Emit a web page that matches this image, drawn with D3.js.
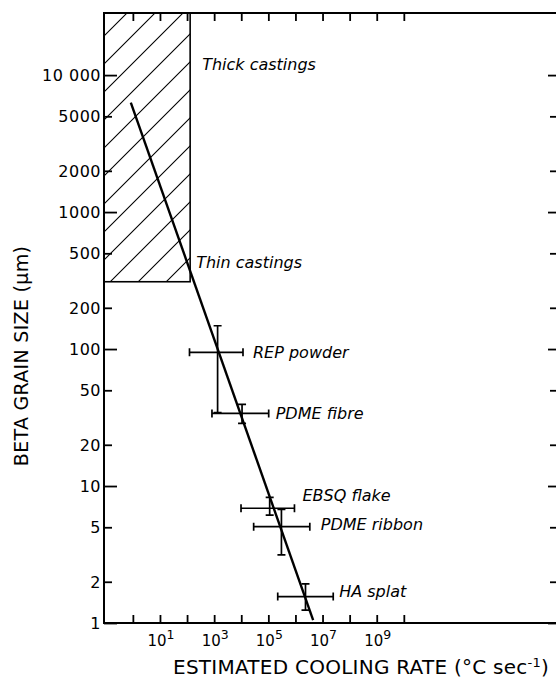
<!DOCTYPE html>
<html>
<head>
<meta charset="utf-8">
<script src="https://cdn.jsdelivr.net/npm/d3@7"></script>
<style>
  body { margin: 0; background: #fff; }
  svg { display: block; font-family: "DejaVu Sans", sans-serif; }
  .lbl { font-style: italic; font-size: 16px; }
</style>
</head>
<body>
<svg id="chart" width="556" height="678"></svg>
<script>
// axis extents
var xDomain = [0.086, 4.9e15];
var yDomain = [1, 28400];

// y ticks
var yTickValues = [1, 2, 5, 10, 20, 50, 100, 200, 500, 1000, 2000, 5000, 10000];
var yTickLabels = ["1", "2", "5", "10", "20", "50", "100", "200", "500", "1000", "2000", "5000", "10 000"];
// x ticks (powers of ten) and the labelled ones
var xTickExponents = [0, 1, 2, 3, 4, 5, 6, 7, 8, 9, 10];
var xLabelExponents = [1, 3, 5, 7, 9];

// measured samples
var samples = ["REP powder", "PDME fibre", "EBSQ flake", "PDME ribbon", "HA splat"];
var rateMid = [1340, 10700, 112000, 304000, 2.35e6];
var rateLow = [123, 830, 9800, 28700, 222000];
var rateHigh = [11600, 103000, 920000, 3.39e6, 2.48e7];
var grainMid = [94.6, 33.9, 6.88, 5.05, 1.56];
var grainLow = [34.3, 28.7, 6.14, 3.14, 1.24];
var grainHigh = [148, 39.5, 8.27, 6.76, 1.93];

// fitted line end points
var fitRate = [0.84, 4.5e6];
var fitGrain = [6300, 1.05];

// castings zone (hatched)
var castRateMax = 130;
var castGrainMin = 310;

var svg = d3.select("#chart");
var plotL = 104, plotR = 558, plotT = 13, plotB = 623;

var x = d3.scaleLog().domain(xDomain).range([plotL, plotR]);
var y = d3.scaleLog().domain(yDomain).range([plotB, plotT]);

// hatch pattern
var defs = svg.append("defs");
defs.append("pattern")
    .attr("id", "hatch")
    .attr("patternUnits", "userSpaceOnUse")
    .attr("width", 28).attr("height", 28)
  .append("path")
    .attr("d", "M-7,7L7,-7M0,28L28,0M21,35L35,21")
    .attr("stroke", "#000")
    .attr("stroke-width", 1.1);

svg.append("rect")
    .attr("x", x(xDomain[0]))
    .attr("y", y(yDomain[1]))
    .attr("width", x(castRateMax) - x(xDomain[0]))
    .attr("height", y(castGrainMin) - y(yDomain[1]))
    .attr("fill", "url(#hatch)")
    .attr("stroke", "#000")
    .attr("stroke-width", 1.6);

// frame
svg.append("rect")
    .attr("x", plotL).attr("y", plotT)
    .attr("width", plotR - plotL).attr("height", plotB - plotT)
    .attr("fill", "none")
    .attr("stroke", "#000")
    .attr("stroke-width", 2);

// y axes (left labelled, right mirrored ticks)
var isMajor = function (v) { return Math.abs(Math.log10(v) % 1) < 1e-9; };
var gL = svg.append("g").attr("transform", "translate(" + plotL + ",0)")
    .call(d3.axisRight(y).tickValues(yTickValues).tickFormat("").tickSizeOuter(0));
gL.select(".domain").remove();
gL.selectAll(".tick line")
    .attr("x2", function (d) { return isMajor(d) ? 13 : 8; })
    .attr("stroke-width", 1.8);

svg.append("g").selectAll("text")
    .data(yTickValues)
  .enter().append("text")
    .attr("x", plotL - 3)
    .attr("y", function (d) { return y(d); })
    .attr("dy", "0.36em")
    .attr("text-anchor", "end")
    .style("font-size", "16px")
    .style("letter-spacing", "0.5px")
    .text(function (d, i) { return yTickLabels[i]; });

var gR = svg.append("g").attr("transform", "translate(" + (plotR - 1) + ",0)")
    .call(d3.axisLeft(y).tickValues(yTickValues).tickFormat("").tickSizeOuter(0));
gR.select(".domain").remove();
gR.selectAll(".tick line")
    .attr("x2", function (d) { return isMajor(d) ? -9 : -7; })
    .attr("stroke-width", 1.8);

// x axes
var xTicks = xTickExponents.map(function (e) { return Math.pow(10, e); });
var gB = svg.append("g").attr("transform", "translate(0," + plotB + ")")
    .call(d3.axisTop(x).tickValues(xTicks).tickFormat("").tickSize(8).tickSizeOuter(0));
gB.select(".domain").remove();
gB.selectAll(".tick line").attr("stroke-width", 1.8);

var gT = svg.append("g").attr("transform", "translate(0," + plotT + ")")
    .call(d3.axisBottom(x).tickValues(xTicks).tickFormat("").tickSize(8).tickSizeOuter(0));
gT.select(".domain").remove();
gT.selectAll(".tick line").attr("stroke-width", 1.8);

var xl = svg.append("g").selectAll("text")
    .data(xLabelExponents)
  .enter().append("text")
    .attr("x", function (e) { return x(Math.pow(10, e)) + 1; })
    .attr("y", 646)
    .attr("text-anchor", "middle")
    .style("font-size", "15px");
xl.append("tspan").text("10");
xl.append("tspan")
    .attr("dy", "-0.55em")
    .style("font-size", "12.5px")
    .text(function (e) { return e; });

// axis titles
var xt = svg.append("text")
    .attr("x", 173)
    .attr("y", 674)
    .style("font-size", "20px")
    .style("letter-spacing", "0.25px");
xt.append("tspan").text("ESTIMATED COOLING RATE (°C  sec");
xt.append("tspan")
    .attr("dy", "-0.55em")
    .style("font-size", "13px")
    .text("-1");
xt.append("tspan")
    .attr("dy", "0.37em")
    .text(")");

svg.append("text")
    .attr("transform", "translate(28,356) rotate(-90)")
    .attr("text-anchor", "middle")
    .style("font-size", "19px")
    .style("letter-spacing", "0.3px")
    .text("BETA GRAIN SIZE (\u03bcm)");

// fitted line
svg.append("path")
    .datum(d3.zip(fitRate, fitGrain))
    .attr("fill", "none")
    .attr("stroke", "#000")
    .attr("stroke-width", 2.4)
    .attr("d", d3.line().x(function (d) { return x(d[0]); }).y(function (d) { return y(d[1]); }));

// error bars
var cap = 4;
var bars = svg.append("g")
    .attr("stroke", "#000")
    .attr("stroke-width", 1.7)
    .attr("fill", "none");
samples.forEach(function (s, i) {
    var cx = x(rateMid[i]), cy = y(grainMid[i]);
    var x0 = x(rateLow[i]), x1 = x(rateHigh[i]);
    var y0 = y(grainLow[i]), y1 = y(grainHigh[i]);
    bars.append("path").attr("d",
        "M" + x0 + "," + cy + "H" + x1 +
        "M" + x0 + "," + (cy - cap) + "V" + (cy + cap) +
        "M" + x1 + "," + (cy - cap) + "V" + (cy + cap) +
        "M" + cx + "," + y1 + "V" + y0 +
        "M" + (cx - cap) + "," + y1 + "H" + (cx + cap) +
        "M" + (cx - cap) + "," + y0 + "H" + (cx + cap));
});

// sample labels
var labelDx = [10, 7, 8, 11, 6];
var labelDy = [0, 0, -13, -2, -5];
svg.append("g").selectAll("text")
    .data(samples)
  .enter().append("text")
    .attr("class", "lbl")
    .attr("x", function (d, i) { return x(rateHigh[i]) + labelDx[i]; })
    .attr("y", function (d, i) { return y(grainMid[i]) + labelDy[i]; })
    .attr("dy", "0.36em")
    .text(function (d) { return d; });

svg.append("text").attr("class", "lbl")
    .attr("x", x(castRateMax) + 12).attr("y", 64)
    .attr("dy", "0.36em")
    .text("Thick castings");
svg.append("text").attr("class", "lbl")
    .attr("x", x(castRateMax) + 6).attr("y", y(castGrainMin) - 20)
    .attr("dy", "0.36em")
    .text("Thin castings");
</script>
</body>
</html>
